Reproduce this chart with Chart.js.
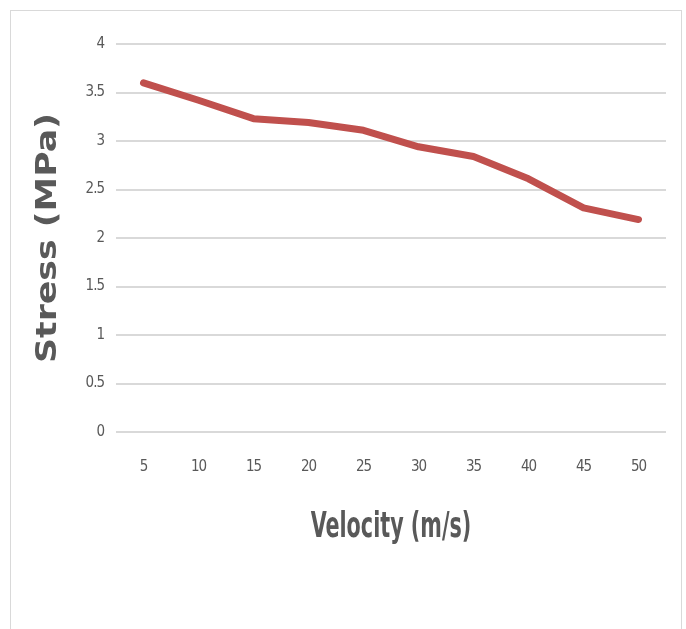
<!DOCTYPE html>
<html>
<head>
<meta charset="utf-8">
<script src="https://cdn.jsdelivr.net/npm/chart.js@4.4.1/dist/chart.umd.min.js"></script>
<style>
  html, body { margin: 0; padding: 0; background: #fff; }
  #wrap { position: relative; width: 686px; height: 629px; }
  #frame { position: absolute; left: 10px; top: 10px; width: 672px; height: 640px;
           border: 1px solid #d9d9d9; box-sizing: border-box; }
  canvas { position: absolute; left: 0; top: 0; }
</style>
</head>
<body>
<div id="wrap">
  <div id="frame"></div>
  <canvas id="lineChart" width="686" height="629"></canvas>
</div>
<script>
const velocity = ["5", "10", "15", "20", "25", "30", "35", "40", "45", "50"];
const stress = [3.6, 3.42, 3.23, 3.19, 3.11, 2.94, 2.84, 2.61, 2.31, 2.19];

const narrow = "'DejaVu Sans Condensed', 'DejaVu Sans', sans-serif";

// stretch / squeeze the axis title about the middle of its scale,
// Excel's picture was resized so the fonts look distorted
function stretchTitle(scale, sx, sy, labelSp) {
  if (scale._stretched) return;
  scale._stretched = true;
  const drawTitle = scale.drawTitle;
  const drawLabels = scale.drawLabels;
  scale.drawTitle = function (...args) {
    const ctx = this.ctx;
    const cx = (this.left + this.right) / 2;
    const cy = (this.top + this.bottom) / 2;
    ctx.save();
    ctx.translate(cx, cy);
    ctx.scale(sx, sy);
    ctx.translate(-cx, -cy);
    drawTitle.apply(this, args);
    ctx.restore();
  };
  scale.drawLabels = function (...args) {
    this.ctx.save();
    this.ctx.letterSpacing = labelSp;
    drawLabels.apply(this, args);
    this.ctx.restore();
  };
}

new Chart(document.getElementById("lineChart"), {
  type: "line",
  data: {
    labels: velocity,
    datasets: [
      {
        label: "Stress",
        data: stress,
        borderColor: "#C0504D",
        borderWidth: 7,
        borderCapStyle: "round",
        borderJoinStyle: "round",
        pointRadius: 0,
        tension: 0,
      },
    ],
  },
  options: {
    responsive: false,
    animation: false,
    layout: { padding: { left: 20, right: 20, top: 44, bottom: 80 } },
    plugins: {
      legend: { display: false },
      tooltip: { enabled: false },
    },
    scales: {
      x: {
        offset: true,
        grid: { display: false },
        border: { display: false },
        ticks: {
          color: "#595959",
          padding: 18,
          font: { family: narrow, size: 15 },
        },
        title: {
          display: true,
          text: "Velocity (m/s)",
          color: "#595959",
          padding: 0,
          font: { family: narrow, size: 36, weight: "bold" },
        },
        afterFit: (scale) => {
          scale.height = 117;
          stretchTitle(scale, 0.64, 1, "-1px");
        },
      },
      y: {
        min: 0,
        max: 4,
        grid: { color: "#d9d9d9", lineWidth: 2, drawTicks: false },
        border: { display: false },
        ticks: {
          stepSize: 0.5,
          color: "#595959",
          padding: 12,
          font: { family: narrow, size: 15 },
          callback: (value) => String(value),
        },
        title: {
          display: true,
          text: "Stress (MPa)",
          color: "#595959",
          padding: { top: 12, bottom: 0 },
          font: { family: "'DejaVu Sans', sans-serif", size: 28, weight: "bold" },
        },
        afterFit: (scale) => {
          scale.width = 96;
          stretchTitle(scale, 1, 1.24, "-1px");
        },
      },
    },
  },
});
</script>
</body>
</html>
